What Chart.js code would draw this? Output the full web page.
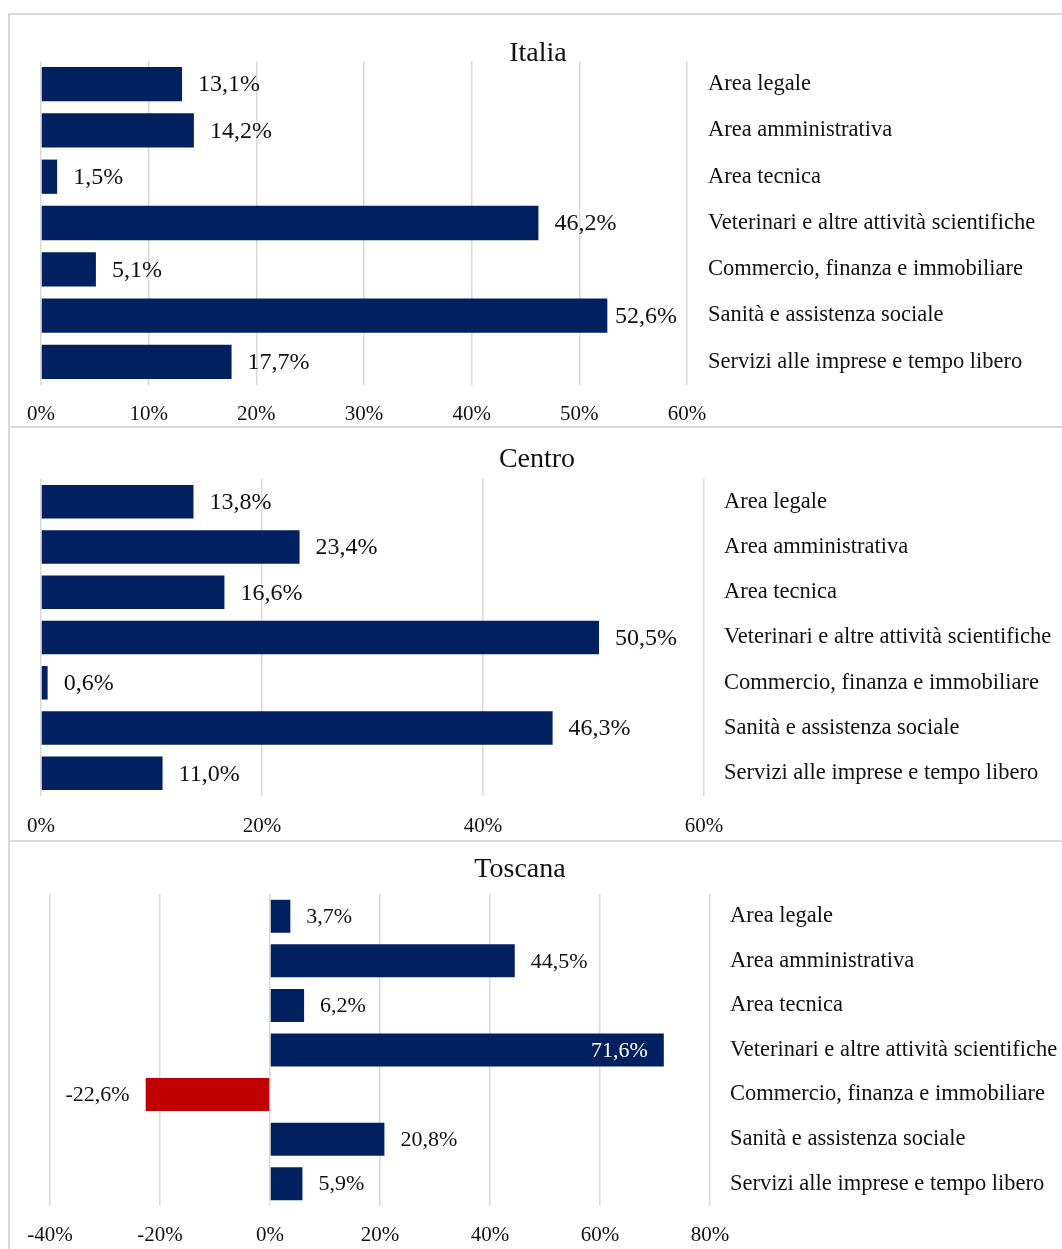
<!DOCTYPE html>
<html lang="it">
<head>
<meta charset="utf-8">
<script src="https://cdn.jsdelivr.net/npm/chart.js@4.4.1/dist/chart.umd.min.js"></script>
<style>
  html, body { margin: 0; padding: 0; background: #fff; width: 1062px; height: 1249px; overflow: hidden; position: relative; }
  .line { position: absolute; background: #d9d9d9; }
  canvas { position: absolute; }
</style>
</head>
<body>
<div class="line" style="left:8px; top:13px; width:1100px; height:2px;"></div>
<div class="line" style="left:8px; top:13px; width:2px; height:1240px;"></div>
<div class="line" style="left:8px; top:426px; width:1100px; height:2px;"></div>
<div class="line" style="left:8px; top:840px; width:1100px; height:2px;"></div>

<canvas id="chartItalia" width="1100" height="412" style="left:-12px; top:14px"></canvas>
<canvas id="chartCentro" width="1100" height="412" style="left:-13px; top:428px"></canvas>
<canvas id="chartToscana" width="1100" height="407" style="left:-30px; top:842px"></canvas>

<script>
// Categorie e valori (variazione %)
const categorie = [
    "Area legale",
    "Area amministrativa",
    "Area tecnica",
    "Veterinari e altre attività scientifiche",
    "Commercio, finanza e immobiliare",
    "Sanità e assistenza sociale",
    "Servizi alle imprese e tempo libero"
];
const valoriItalia = [13.1, 14.2, 1.5, 46.2, 5.1, 52.6, 17.7];
const valoriCentro = [13.8, 23.4, 16.6, 50.5, 0.6, 46.3, 11.0];
const valoriToscana = [3.7, 44.5, 6.2, 71.6, -22.6, 20.8, 5.9];

// Scale dell'asse x (min, max, passo)
const assiItalia = [0, 60, 10];
const assiCentro = [0, 60, 20];
const assiToscana = [-40, 80, 20];

const FONT = "'Liberation Serif', 'Times New Roman', serif";
const TESTO = "#111111";
const BLU = "#002060";
const ROSSO = "#C00000";

function formatPerc(v) {
    return v.toFixed(1).replace(".", ",") + "%";
}

// Etichette dei valori accanto alle barre
const etichetteBarre = {
    id: "etichetteBarre",
    afterDatasetsDraw(chart, args, opts) {
        const { ctx, chartArea } = chart;
        const dati = chart.data.datasets[0].data;
        const meta = chart.getDatasetMeta(0);
        ctx.save();
        ctx.font = `${opts.size}px ${FONT}`;
        ctx.textBaseline = "middle";
        meta.data.forEach((bar, i) => {
            const v = dati[i];
            const testo = formatPerc(v);
            const w = ctx.measureText(testo).width;
            let x, align = "left", colore = TESTO;
            if (v < 0) {
                x = bar.x - opts.offset;
                align = "right";
            } else {
                x = bar.x + opts.offset;
                const eccesso = x + w - (chartArea.right - 10);
                if (eccesso > w / 2) {
                    x = bar.x - opts.offset;
                    align = "right";
                    colore = "#ffffff";
                } else if (eccesso > 0) {
                    x -= eccesso;
                }
            }
            ctx.textAlign = align;
            ctx.fillStyle = colore;
            ctx.fillText(testo, x, bar.y + 1);
        });
        ctx.restore();
    }
};

function creaGrafico(id, titolo, valori, assi, cfg) {
    return new Chart(document.getElementById(id), {
        type: "bar",
        data: {
            labels: categorie,
            datasets: [{
                data: valori,
                backgroundColor: valori.map(v => v < 0 ? ROSSO : BLU),
                barPercentage: 0.74,
                categoryPercentage: 1
            }]
        },
        options: {
            indexAxis: "y",
            responsive: false,
            animation: false,
            layout: { padding: 0 },
            plugins: {
                legend: { display: false },
                tooltip: { enabled: false },
                title: {
                    display: true,
                    text: titolo,
                    color: TESTO,
                    font: { family: FONT, size: 28, weight: "normal", lineHeight: 1 },
                    padding: { top: cfg.titleTop, bottom: cfg.titleBottom }
                },
                etichetteBarre: { size: cfg.valueSize, offset: 16 }
            },
            scales: {
                x: {
                    min: assi[0],
                    max: assi[1],
                    ticks: {
                        stepSize: assi[2],
                        color: TESTO,
                        padding: cfg.tickPad,
                        font: { family: FONT, size: 21 },
                        callback: v => v + "%"
                    },
                    grid: { color: "#d9d9d9", lineWidth: 1.5, drawTicks: false },
                    border: { display: false },
                    afterFit: s => { s.height = cfg.xHeight; }
                },
                y: {
                    position: "right",
                    ticks: {
                        color: TESTO,
                        padding: cfg.labelPad,
                        autoSkip: false,
                        font: { family: FONT, size: 22.5 }
                    },
                    grid: { display: false, drawTicks: false },
                    border: { display: false },
                    afterFit: s => { s.width = cfg.yWidth; }
                },
                // spazio vuoto a sinistra dell'area del grafico
                margine: {
                    axis: "y",
                    type: "category",
                    position: "left",
                    ticks: { display: false },
                    grid: { display: false, drawTicks: false },
                    border: { display: false },
                    afterFit: s => { s.width = cfg.leftWidth; }
                }
            }
        },
        plugins: [etichetteBarre]
    });
}

creaGrafico("chartItalia", "Italia", valoriItalia, assiItalia, {
    leftWidth: 53, yWidth: 401, labelPad: 21,
    titleTop: 26, titleBottom: -7, xHeight: 41, tickPad: 17, valueSize: 24
});

creaGrafico("chartCentro", "Centro", valoriCentro, assiCentro, {
    leftWidth: 54, yWidth: 383, labelPad: 20,
    titleTop: 18, titleBottom: 5, xHeight: 44, tickPad: 18, valueSize: 24
});

creaGrafico("chartToscana", "Toscana", valoriToscana, assiToscana, {
    leftWidth: 80, yWidth: 360, labelPad: 20,
    titleTop: 14, titleBottom: 10, xHeight: 43, tickPad: 17, valueSize: 22
});
</script>
</body>
</html>
